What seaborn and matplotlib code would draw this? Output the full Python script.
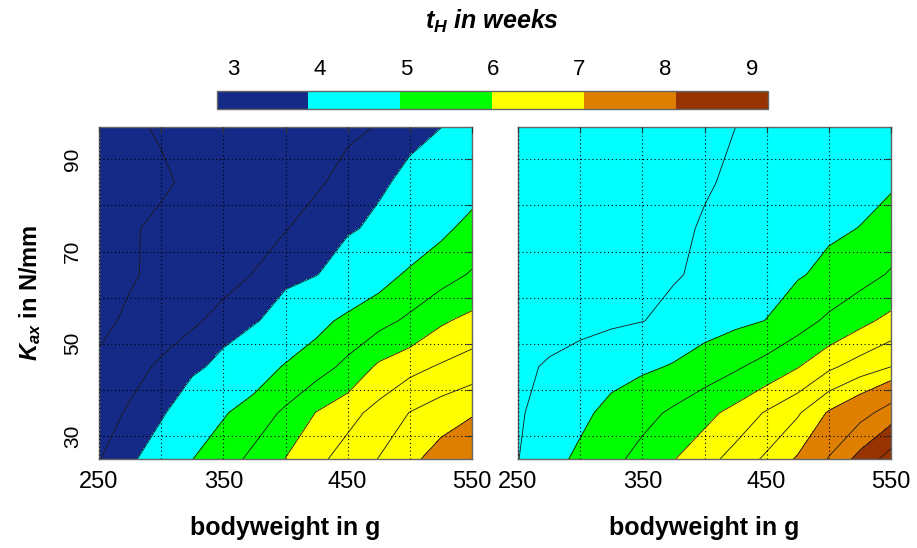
import numpy as np
import matplotlib
matplotlib.use("Agg")
import matplotlib.pyplot as plt
from matplotlib.colors import ListedColormap, BoundaryNorm
import seaborn as sns


# =============================================================================
# DATA (t_H in weeks)
# =============================================================================
bodyweight = [250, 275, 300, 325, 350, 375, 400, 425, 450, 475, 500, 525, 550]
kax = [25, 35, 45, 55, 65, 75, 85, 97]

# left map, one row per K_ax
th_left_k25 = [3.59, 3.77, 4.19, 4.92, 5.28, 5.63, 6.00, 6.29, 6.53, 6.74, 6.98, 7.20, 7.45]
th_left_k35 = [3.47, 3.64, 3.80, 4.24, 4.87, 5.23, 5.59, 6.01, 6.26, 6.50, 6.74, 6.90, 7.02]
th_left_k45 = [3.30, 3.49, 3.65, 3.77, 4.00, 4.52, 5.00, 5.28, 5.63, 6.07, 6.27, 6.42, 6.55]
th_left_k55 = [3.18, 3.30, 3.43, 3.56, 3.68, 3.81, 4.16, 4.72, 5.09, 5.33, 5.60, 5.93, 6.11]
th_left_k65 = [3.12, 3.22, 3.32, 3.42, 3.51, 3.61, 3.73, 3.85, 4.22, 4.66, 5.04, 5.29, 5.55]
th_left_k75 = [3.15, 3.23, 3.29, 3.36, 3.44, 3.51, 3.59, 3.69, 3.80, 3.98, 4.39, 4.79, 5.12]
th_left_k85 = [3.09, 3.16, 3.22, 3.29, 3.36, 3.43, 3.50, 3.57, 3.67, 3.79, 3.99, 4.32, 4.65]
th_left_k97 = [3.17, 3.22, 3.27, 3.32, 3.36, 3.41, 3.46, 3.51, 3.56, 3.61, 3.74, 3.86, 4.25]

# right map
th_right_k25 = [4.44, 4.74, 5.04, 5.36, 5.67, 5.97, 6.24, 6.52, 6.79, 7.10, 7.63, 8.29, 8.95]
th_right_k35 = [4.40, 4.62, 4.80, 5.09, 5.33, 5.59, 5.86, 6.13, 6.42, 6.69, 7.10, 7.41, 7.83]
th_right_k45 = [4.37, 4.49, 4.60, 4.72, 4.84, 4.97, 5.20, 5.43, 5.70, 5.97, 6.31, 6.54, 6.73]
th_right_k55 = [4.25, 4.30, 4.34, 4.39, 4.44, 4.55, 4.68, 4.81, 4.94, 5.28, 5.60, 5.87, 6.11]
th_right_k65 = [4.15, 4.20, 4.25, 4.31, 4.37, 4.42, 4.51, 4.63, 4.75, 4.88, 5.06, 5.30, 5.55]
th_right_k75 = [4.08, 4.13, 4.18, 4.24, 4.31, 4.38, 4.48, 4.57, 4.66, 4.76, 4.85, 4.94, 5.18]
th_right_k85 = [4.02, 4.07, 4.12, 4.18, 4.25, 4.33, 4.42, 4.50, 4.57, 4.64, 4.71, 4.78, 4.85]
th_right_k97 = [3.95, 4.00, 4.05, 4.10, 4.17, 4.25, 4.35, 4.45, 4.50, 4.55, 4.60, 4.65, 4.70]

band_colors = ["#152a87", "#00ffff", "#00ff00", "#ffff00", "#df7f00", "#963300"]
band_edges = [2.81, 3.87, 4.93, 5.99, 7.06, 8.12, 9.18]
cbar_ticks = [3, 4, 5, 6, 7, 8, 9]

lines_left = [3.25, 3.6, 3.87, 4.93, 5.5, 5.99, 6.38, 6.73, 7.06]
lines_right = [4.45, 4.93, 5.5, 5.99, 6.38, 6.73, 7.06, 7.6, 8.12, 8.7]

x_ticks = [250, 300, 350, 400, 450, 500, 550]
x_tick_labels = ["250", "", "350", "", "450", "", "550"]
y_ticks = [30, 40, 50, 60, 70, 80, 90]
y_tick_labels = ["30", "", "50", "", "70", "", "90"]


# =============================================================================
# STYLE
# =============================================================================
sns.set_theme(style="white")
plt.rcParams["font.family"] = ["Liberation Sans", "DejaVu Sans"]
plt.rcParams["mathtext.fontset"] = "custom"
plt.rcParams["mathtext.rm"] = "Liberation Sans:bold"
plt.rcParams["mathtext.it"] = "Liberation Sans:italic:bold"
plt.rcParams["mathtext.bf"] = "Liberation Sans:bold"
for key in ["text.color", "axes.labelcolor", "xtick.color", "ytick.color"]:
    plt.rcParams[key] = "black"

W, H = 917, 548
fig = plt.figure(figsize=(W / 100, H / 100), dpi=100)

ax_l = fig.add_axes([99 / W, (H - 459) / H, 373 / W, 332 / H])
ax_r = fig.add_axes([518 / W, (H - 459) / H, 373 / W, 332 / H])

cmap = ListedColormap(band_colors)
norm = BoundaryNorm(band_edges, cmap.N)

X, Y = np.meshgrid(bodyweight, kax)
Z_left = np.array([th_left_k25, th_left_k35, th_left_k45, th_left_k55,
                   th_left_k65, th_left_k75, th_left_k85, th_left_k97])
Z_right = np.array([th_right_k25, th_right_k35, th_right_k45, th_right_k55,
                    th_right_k65, th_right_k75, th_right_k85, th_right_k97])

cf = None
for ax, Z, lv in [(ax_l, Z_left, lines_left), (ax_r, Z_right, lines_right)]:
    cf = ax.contourf(X, Y, Z, levels=band_edges, cmap=cmap, norm=norm)
    ax.contour(X, Y, Z, levels=lv, colors="#1a1a1a", linewidths=0.6)

    ax.set_xlim(250, 550)
    ax.set_ylim(25, 97)
    ax.set_xticks(x_ticks)
    ax.set_xticklabels(x_tick_labels)
    ax.set_yticks(y_ticks)

    ax.grid(True, color="black", linestyle=(0, (1, 2.5)), linewidth=0.8)
    ax.set_axisbelow(False)
    ax.tick_params(direction="in", length=4, width=0.8, color="#333333",
                   top=True, right=True, labelsize=17, pad=9,
                   labelcolor="black")
    for sp in ax.spines.values():
        sp.set_color("#666666")
        sp.set_linewidth(1.0)

    ax.set_xlabel("bodyweight in g", fontsize=18, fontweight="bold",
                  labelpad=16, color="black")

ax_l.set_yticklabels(y_tick_labels, rotation=90, va="center", fontsize=15)
ax_l.tick_params(axis="y", pad=12)
ax_l.set_ylabel(r"$K_{ax}$ in N/mm", fontsize=17, fontweight="bold",
                labelpad=15, color="black")
ax_r.set_yticklabels([])

# colorbar on top
cax = fig.add_axes([216.7 / W, (H - 109) / H, 551 / W, 18.3 / H])
cb = fig.colorbar(cf, cax=cax, orientation="horizontal", ticks=cbar_ticks,
                  spacing="proportional")
cb.minorticks_off()
cax.xaxis.set_ticks_position("top")
cax.tick_params(axis="x", which="both", length=0, labelsize=16, pad=8,
                labelcolor="black")
cb.outline.set_edgecolor("#666666")
cb.outline.set_linewidth(1.0)

fig.text(492 / W, 1 - 21 / H, r"$t_H$ in weeks", ha="center", va="center",
         fontsize=18, fontweight="bold", style="italic", color="black")

fig.savefig("out.png", dpi=100)
